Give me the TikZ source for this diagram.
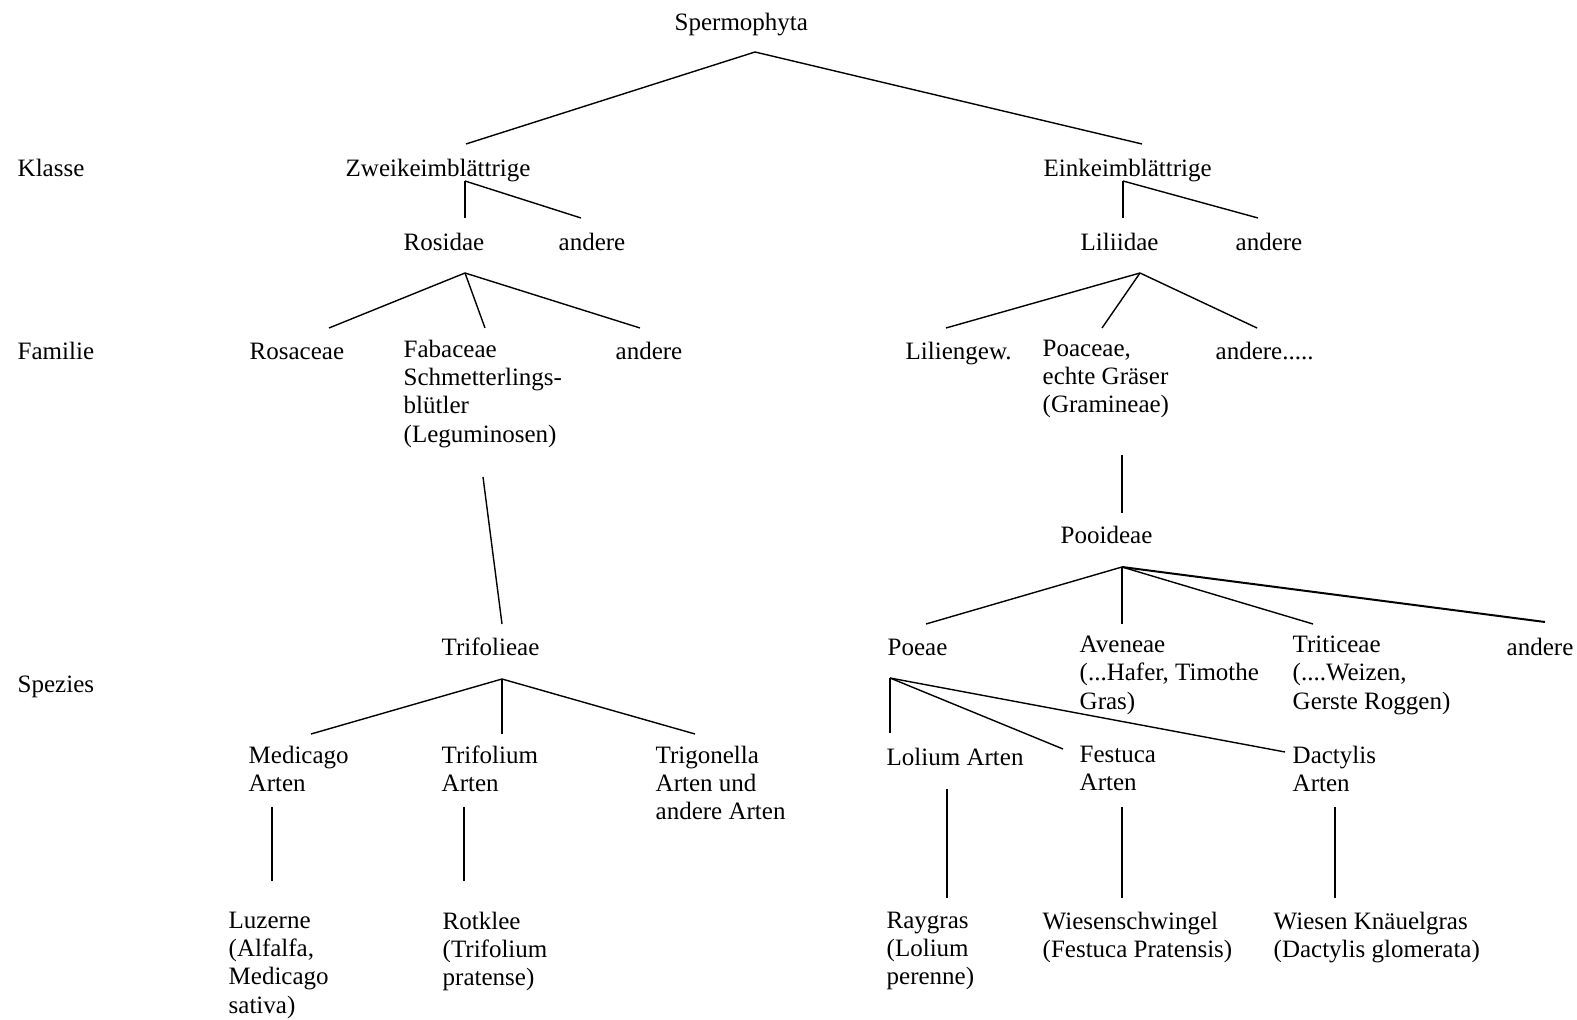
\documentclass[tikz,border=0pt]{standalone}
\usepackage{fontspec}
\setmainfont{Liberation Serif}

\begin{document}
\begin{tikzpicture}[x=0.5pt, y=-0.5pt, line width=0.7pt,
  font=\fontsize{12.5}{14.2}\selectfont,
  taxon/.style={anchor=north west, inner sep=0pt, align=left, yshift=8.44pt,
    execute at begin node=\strut}]
\useasboundingbox (0,0) rectangle (1577,1020);
% ranks at the left margin
\node[taxon] (klasse)  at (17,173) {Klasse};
\node[taxon] (familie) at (17,356) {Familie};
\node[taxon] (spezies) at (17,689) {Spezies};
% taxa, placed at the baseline of their first line
\node[taxon] (spermo)     at (674,27)   {Spermophyta};
\node[taxon] (zwei)       at (345,173)  {Zweikeimblättrige};
\node[taxon] (ein)        at (1043,173) {Einkeimblättrige};
\node[taxon] (rosidae)    at (403,247)  {Rosidae};
\node[taxon] (zweiAnd)    at (558,247)  {andere};
\node[taxon] (liliidae)   at (1080,247) {Liliidae};
\node[taxon] (einAnd)     at (1235,247) {andere};
\node[taxon] (rosaceae)   at (249,356)  {Rosaceae};
\node[taxon] (fabaceae)   at (403,356)  {Fabaceae\\Schmetterlings-\\blütler\\(Leguminosen)};
\node[taxon] (rosAnd)     at (615,356)  {andere};
\node[taxon] (liliengew)  at (905,356)  {Liliengew.};
\node[taxon] (poaceae)    at (1042,356) {Poaceae,\\echte Gräser\\(Gramineae)};
\node[taxon] (lilAnd)     at (1215,356) {andere.....};
\node[taxon] (pooideae)   at (1060,540) {Pooideae};
\node[taxon] (trifolieae) at (441,652)  {Trifolieae};
\node[taxon] (poeae)      at (887,652)  {Poeae};
\node[taxon] (aveneae)    at (1079,652) {Aveneae\\(...Hafer, Timothe\\Gras)};
\node[taxon] (triticeae)  at (1292,652) {Triticeae\\(....Weizen,\\Gerste Roggen)};
\node[taxon] (pooAnd)     at (1506,652) {andere};
\node[taxon] (medicago)   at (248,762)  {Medicago\\Arten};
\node[taxon] (trifolium)  at (441,762)  {Trifolium\\Arten};
\node[taxon] (trigonella) at (655,762)  {Trigonella\\Arten und\\andere Arten};
\node[taxon] (lolium)     at (886,762)  {Lolium Arten};
\node[taxon] (festuca)    at (1079,762) {Festuca\\Arten};
\node[taxon] (dactylis)   at (1292,762) {Dactylis\\Arten};
\node[taxon] (luzerne)    at (228,928)  {Luzerne\\(Alfalfa,\\Medicago\\sativa)};
\node[taxon] (rotklee)    at (442,928)  {Rotklee\\(Trifolium\\pratense)};
\node[taxon] (raygras)    at (886,928)  {Raygras\\(Lolium\\perenne)};
\node[taxon] (wiesen)     at (1042,928) {Wiesenschwingel\\(Festuca Pratensis)};
\node[taxon] (knaeuel)    at (1273,928) {Wiesen Knäuelgras\\(Dactylis glomerata)};
% branching points
\coordinate (jSperm) at (755,52);
\coordinate (jZwei)  at (465,181);
\coordinate (jEin)   at (1123,181);
\coordinate (jRos)   at (465,273);
\coordinate (jLil)   at (1140,273);
\coordinate (jPoo)   at (1122,567);
\coordinate (jTri)   at (502,679);
\coordinate (jPoe)   at (890,678);
% starts of the single strokes
\coordinate (sFab)    at (483,477);
\coordinate (sPoac)   at (1122,455);
\coordinate (sMed)    at (272,807);
\coordinate (sTrifol) at (464,807);
\coordinate (sLol)    at (947,789);
\coordinate (sFest)   at (1122,807);
\coordinate (sDact)   at (1335,807);
% line ends above the children
\coordinate (eZwei)    at (466,144);
\coordinate (eEin)     at (1142,144);
\coordinate (eRos)     at (465,218);
\coordinate (eZweiAnd) at (581,218);
\coordinate (eLil)     at (1123,218);
\coordinate (eEinAnd)  at (1258,218);
\coordinate (eRosac)   at (329,328);
\coordinate (eFab)     at (485,328);
\coordinate (eRosAnd)  at (640,328);
\coordinate (eLilg)    at (946,328);
\coordinate (ePoac)    at (1102,328);
\coordinate (eLilAnd)  at (1257,328);
\coordinate (eTrif)    at (502,624);
\coordinate (ePooi)    at (1122,513);
\coordinate (ePoe)     at (926,624);
\coordinate (eAven)    at (1122,624);
\coordinate (eTritic)  at (1313,624);
\coordinate (ePooAnd)  at (1545,622);
\coordinate (eMed)     at (311,734);
\coordinate (eTrifol)  at (502,734);
\coordinate (eTrig)    at (695,734);
\coordinate (eLol)     at (890,733);
\coordinate (eFest)    at (1063,749);
\coordinate (eDact)    at (1285,752);
\coordinate (eLuz)     at (272,881);
\coordinate (eRot)     at (464,881);
\coordinate (eRay)     at (947,898);
\coordinate (eWies)    at (1122,898);
\coordinate (eKnae)    at (1335,898);
% fans
\foreach \p/\cs in {jSperm/{eZwei,eEin}, jZwei/{eRos,eZweiAnd}, jEin/{eLil,eEinAnd},
    jRos/{eRosac,eFab,eRosAnd}, jLil/{eLilg,ePoac,eLilAnd}, jPoo/{ePoe,eAven,eTritic},
    jTri/{eMed,eTrifol,eTrig}, jPoe/{eLol,eFest,eDact}}
  \foreach \c in \cs
    \draw (\p) -- (\c);
\draw[line width=1pt] (jPoo) -- (ePooAnd);
% single strokes
\foreach \a/\b in {sFab/eTrif, sPoac/ePooi, sMed/eLuz, sTrifol/eRot,
    sLol/eRay, sFest/eWies, sDact/eKnae}
  \draw (\a) -- (\b);
\end{tikzpicture}
\end{document}
